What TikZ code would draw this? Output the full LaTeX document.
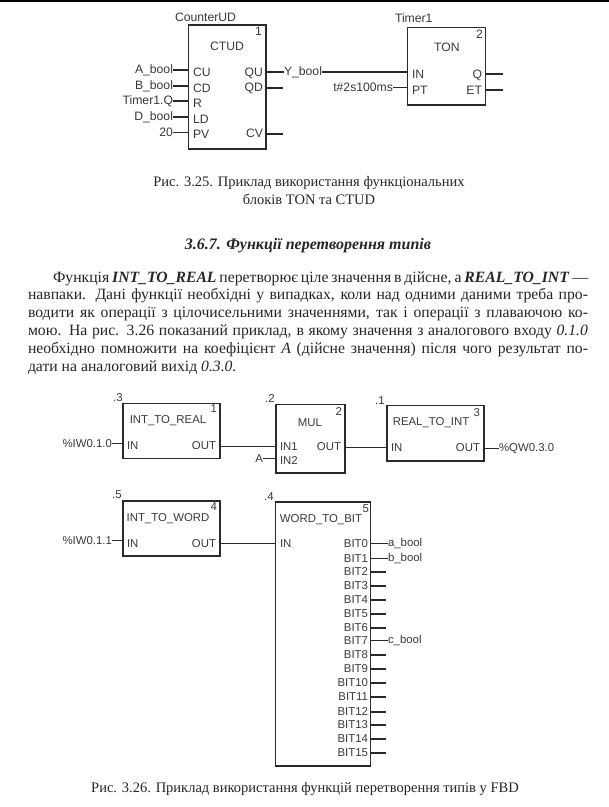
\documentclass[tikz,border=0pt]{standalone}
\usepackage{fontspec}
\setmainfont{Liberation Serif}
\newfontfamily\diag{Liberation Sans}
\definecolor{ink}{HTML}{2A2A2A}
\definecolor{txt}{HTML}{3A3A3A}
\definecolor{body}{HTML}{262626}
\newcommand\fbdbox[5]{\node[block,minimum width=#4pt,minimum height=#5pt,anchor=north west] (#1) at (#2,#3) {};}
\tikzset{
 block/.style={draw=ink,line width=1.4pt,inner sep=0,outer sep=0,fill=none},
 lbl/.style={inner sep=0,outer sep=0,text=txt,font=\diag\fontsize{12.2}{12}\selectfont},
 slbl/.style={inner sep=0,outer sep=0,text=txt,font=\diag\fontsize{11.4}{12}\selectfont},
 wire/.style={draw=ink,line width=1.2pt},
 thickwire/.style={draw=ink,line width=1.6pt},
 capt/.style={inner sep=0,outer sep=0,text=body,font=\fontsize{14.5}{16}\selectfont},
 para/.style={inner sep=0,outer sep=0,text=body,anchor=base west,font=\fontsize{15.7}{16}\selectfont},
}
\begin{document}
\begin{tikzpicture}[x=1pt,y=-1pt]
\useasboundingbox (0,0) rectangle (609,807);
\fill[white] (0,0) rectangle (609,807);
\coordinate (topL) at (0,1); \coordinate (topR) at (609,1);
\draw[black,line width=1.4pt] (topL) -- (topR);
% ---- CTUD
\fbdbox{ctud}{188.5}{25}{77.5}{124}
\node[lbl,anchor=mid west] (ctudt) at (175,19) {CounterUD};
\node[lbl] (ctudn) at (227,46) {CTUD};
\node[lbl,anchor=mid east] (ctud1) at (262,33) {1};
\foreach \n/\t/\y in {cu/CU/74,cd/CD/90,r/R/105,ld/LD/121,pv/PV/136}
  \node[lbl,anchor=mid west] (\n) at (193,\y) {\t};
\foreach \n/\t/\y in {qu/QU/74,qd/QD/89,cv/CV/135}
  \node[lbl,anchor=mid east] (\n) at (263,\y) {\t};
\foreach \n/\t/\y in {ia/A\_bool/71,ib/B\_bool/87,ic/Timer1.Q/102,id/D\_bool/118,ie/20/134}{
  \node[lbl,anchor=mid east] (\n) at (173,\y) {\t};
  \draw[wire] (\n.east) -- (\n.east -| ctud.west);
}
% ---- TON
\fbdbox{ton}{407.5}{27.5}{78}{77.5}
\node[lbl,anchor=mid west] (tont) at (395,20) {Timer1};
\node[lbl] (tonn) at (447,47) {TON};
\node[lbl,anchor=mid east] (ton2) at (483,36) {2};
\node[lbl,anchor=mid west] (tin) at (412,76) {IN};
\node[lbl,anchor=mid west] (tpt) at (412,92) {PT};
\node[lbl,anchor=mid east] (tq) at (482,76) {Q};
\node[lbl,anchor=mid east] (tet) at (482,92) {ET};
\node[lbl,anchor=mid west] (ybool) at (284,73) {Y\_bool};
\draw[wire] (ctud.east |- ybool) -- (ybool.west);
\draw[thickwire] (ybool.east) -- (ybool.east -| ton.west);
\node[lbl,anchor=mid east] (tval) at (393,89) {t\#2s100ms};
\draw[wire] (tval.east) -- (tval.east -| ton.west);
\coordinate (qdE) at (283,88); \coordinate (cvE) at (283,134);
\coordinate (tqE) at (503,74); \coordinate (tetE) at (503,90);
\draw[wire] (qdE -| ctud.east) -- (qdE);
\draw[wire] (cvE -| ctud.east) -- (cvE);
\draw[wire] (tqE -| ton.east) -- (tqE);
\draw[wire] (tetE -| ton.east) -- (tetE);
% ---- text
\node[capt] (c1) at (309,183.5) {Рис. 3.25. Приклад використання функціональних};
\node[capt] (c2) at (309,199.5) {блоків TON та CTUD};
\node[capt,font=\bfseries\itshape\fontsize{16}{16}\selectfont] (head) at (308,246) {3.6.7. Функції перетворення типів};
\node[para] (p1) at (53,282) {\hbox to 535pt{Функція \textbf{\textit{INT\_TO\_REAL}} перетворює ціле значення в дійсне, а \textbf{\textit{REAL\_TO\_INT}} —}};
\node[para] (p2) at (28,299.5) {\hbox to 560pt{навпаки. Дані функції необхідні у випадках, коли над одними даними треба про-}};
\node[para] (p3) at (28,317) {\hbox to 560pt{водити як операції з цілочисельними значеннями, так і операції з плаваючою ко-}};
\node[para] (p4) at (28,335) {\hbox to 560pt{мою. На рис. 3.26 показаний приклад, в якому значення з аналогового входу \textit{0.1.0}}};
\node[para] (p5) at (28,353) {\hbox to 560pt{необхідно помножити на коефіцієнт \textit{A} (дійсне значення) після чого результат по-}};
\node[para] (p6) at (28,371) {дати на аналоговий вихід \textit{0.3.0.}};
% ---- lower row 1
\fbdbox{itr}{123}{403.5}{97}{55}
\fbdbox{mul}{276}{404.5}{69}{68.5}
\fbdbox{rti}{387}{405.5}{97}{55.5}
\node[slbl] (itrn) at (168,421) {INT\_TO\_REAL};
\node[slbl] (muln) at (310,423) {MUL};
\node[slbl] (rtin) at (431,423) {REAL\_TO\_INT};
\node[slbl] (n3) at (118,398) {.3};
\node[slbl] (n2) at (270,399) {.2};
\node[slbl] (n1) at (380,401) {.1};
\node[slbl,anchor=mid east] (b1) at (217,410) {1};
\node[slbl,anchor=mid east] (b2) at (342,413) {2};
\node[slbl,anchor=mid east] (b3) at (480,414) {3};
\node[slbl,anchor=mid west] (i1) at (127,447) {IN};
\node[slbl,anchor=mid east] (o1) at (216,447) {OUT};
\node[slbl,anchor=mid west] (i21) at (280,448) {IN1};
\node[slbl,anchor=mid west] (i22) at (280,462) {IN2};
\node[slbl,anchor=mid east] (o2) at (341,448) {OUT};
\node[slbl,anchor=mid west] (i3) at (391,449) {IN};
\node[slbl,anchor=mid east] (o3) at (480,449) {OUT};
\node[slbl,anchor=mid east] (iw0) at (112,445) {\%IW0.1.0};
\draw[wire] (iw0.east) -- (iw0.east -| itr.west);
\node[slbl,anchor=mid east] (avar) at (263,460) {A};
\draw[wire] (avar.east) -- (avar.east -| mul.west);
\draw[thickwire] (itr.east |- i21) -- (mul.west |- i21);
\draw[thickwire] (mul.east |- i3) -- (rti.west |- i3);
\node[slbl,anchor=mid west] (qw) at (499,449) {\%QW0.3.0};
\draw[wire] (rti.east |- qw) -- (qw.west);
% ---- lower row 2
\fbdbox{itw}{123}{501}{97}{55}
\fbdbox{wtb}{275.5}{502}{95}{264}
\node[slbl] (itwn) at (168,518.5) {INT\_TO\_WORD};
\node[slbl] (wtbn) at (321,520) {WORD\_TO\_BIT};
\node[slbl] (n5) at (117,495) {.5};
\node[slbl] (n4) at (269,497) {.4};
\node[slbl,anchor=mid east] (b4) at (217,508) {4};
\node[slbl,anchor=mid east] (b5) at (369,510) {5};
\node[slbl,anchor=mid west] (i4) at (127,545) {IN};
\node[slbl,anchor=mid east] (o4) at (216,545) {OUT};
\node[slbl,anchor=mid west] (i5) at (280,545) {IN};
\node[slbl,anchor=mid east] (iw1) at (112,542) {\%IW0.1.1};
\draw[wire] (iw1.east) -- (iw1.east -| itw.west);
\draw[thickwire] (itw.east |- i5) -- (wtb.west |- i5);
\foreach \k/\y in {0/544,1/559,2/572,3/586,4/600,5/614,6/628,7/641,8/655,9/669,10/683,11/697,12/712,13/725,14/739,15/753}{
  \node[slbl,anchor=mid east] (bit\k) at (368,\y+1) {BIT\k};
}
\foreach \k/\y in {2/572,3/586,4/600,5/614,6/628,8/655,9/669,10/683,11/697,12/712,13/725,14/739,15/753}{
  \coordinate (bitE\k) at (386,\y);
  \draw[wire] (bitE\k -| wtb.east) -- (bitE\k);
}
\foreach \n/\t/\y in {oa/a\_bool/544,ob/b\_bool/559,oc/c\_bool/641}{
  \node[slbl,anchor=mid west] (\n) at (388,\y) {\t};
  \draw[wire] (\n.west -| wtb.east) -- (\n.west);
}
\node[capt] (c3) at (305,789) {Рис. 3.26. Приклад використання функцій перетворення типів у FBD};
\end{tikzpicture}
\end{document}
